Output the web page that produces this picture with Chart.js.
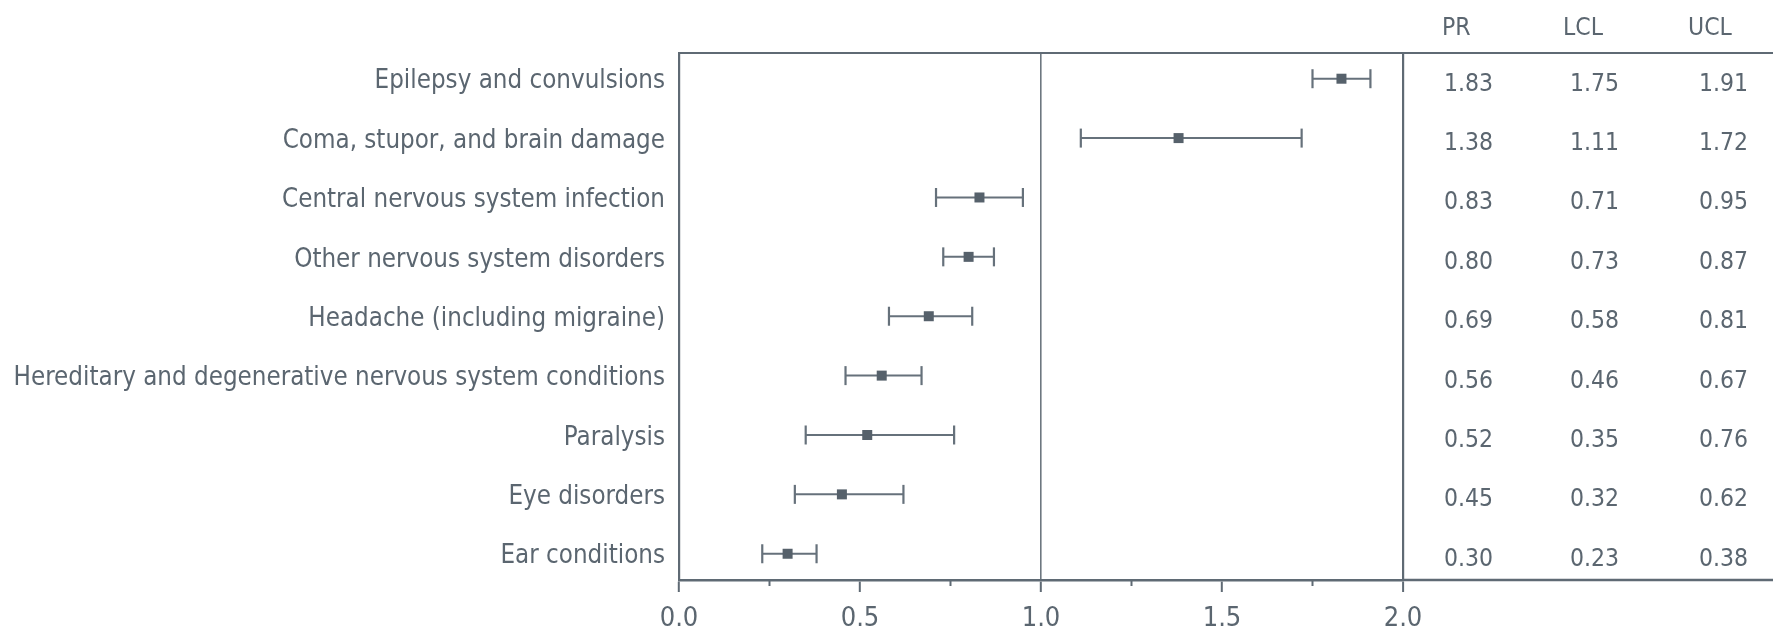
<!DOCTYPE html>
<html><head><meta charset="utf-8">
<script src="https://cdn.jsdelivr.net/npm/chart.js@4.4.1/dist/chart.umd.min.js"></script>
<style>html,body{margin:0;padding:0;background:#fff;overflow:hidden}</style>
</head><body>
<canvas id="c" width="1773" height="630"></canvas>
<script>
// ---- data ----
const categories = [
  'Epilepsy and convulsions',
  'Coma, stupor, and brain damage',
  'Central nervous system infection',
  'Other nervous system disorders',
  'Headache (including migraine)',
  'Hereditary and degenerative nervous system conditions',
  'Paralysis',
  'Eye disorders',
  'Ear conditions'
];
const PR  = [1.83, 1.38, 0.83, 0.80, 0.69, 0.56, 0.52, 0.45, 0.30];
const LCL = [1.75, 1.11, 0.71, 0.73, 0.58, 0.46, 0.35, 0.32, 0.23];
const UCL = [1.91, 1.72, 0.95, 0.87, 0.81, 0.67, 0.76, 0.62, 0.38];
const xMajorTicks = [0, 0.5, 1.0, 1.5, 2.0];
const xMinorTicks = [0.25, 0.75, 1.25, 1.75];
const tableHeaders = ['PR', 'LCL', 'UCL'];

// ---- styles ----
const FONT = '"DejaVu Sans Condensed", "DejaVu Sans", sans-serif';
const TEXT = '#5b6670';
const LINE = '#5f6a74';
const MARK = '#56616b';

const ciDatasets = categories.map((c, i) => ({
  label: c + ' CI',
  data: [{x: LCL[i], y: i}, {x: UCL[i], y: i}],
  showLine: true,
  borderColor: '#66717b',
  borderWidth: 2,
  pointStyle: 'line',
  pointRotation: 90,
  pointRadius: 9.5,
  pointBorderWidth: 2.2,
  pointBorderColor: '#66717b',
  pointBackgroundColor: '#66717b'
}));

const prDataset = {
  label: 'PR',
  data: PR.map((v, i) => ({x: v, y: i})),
  showLine: false,
  pointStyle: 'rect',
  pointRadius: 7.07,
  pointBorderWidth: 0,
  backgroundColor: MARK,
  pointBackgroundColor: MARK,
  borderColor: MARK
};

const extras = {
  id: 'extras',
  afterDraw(chart) {
    const {ctx, chartArea: a, scales: {x, y}} = chart;
    ctx.save();
    // top rule extends across the table
    ctx.strokeStyle = LINE; ctx.lineWidth = 2.2;
    ctx.beginPath(); ctx.moveTo(a.left - 1, a.top); ctx.lineTo(chart.width, a.top); ctx.stroke();
    // bottom rule continues under the table
    ctx.lineWidth = 2.6;
    ctx.beginPath(); ctx.moveTo(a.right, a.bottom); ctx.lineTo(chart.width, a.bottom); ctx.stroke();
    // minor ticks
    ctx.lineWidth = 2; ctx.strokeStyle = LINE;
    xMinorTicks.forEach(v => {
      const px = x.getPixelForValue(v);
      ctx.beginPath(); ctx.moveTo(px, a.bottom); ctx.lineTo(px, a.bottom + 6); ctx.stroke();
    });
    // table
    ctx.fillStyle = TEXT;
    ctx.font = '24.5px ' + FONT;
    ctx.textBaseline = 'alphabetic';
    const headX = [1442, 1563, 1688];
    ctx.textAlign = 'left';
    tableHeaders.forEach((h, j) => ctx.fillText(h, headX[j], 35));
    const colX = [1493, 1619, 1748];
    ctx.textAlign = 'right';
    const cols = [PR, LCL, UCL];
    categories.forEach((c, i) => {
      const py = y.getPixelForValue(i) + 12;
      cols.forEach((arr, j) => ctx.fillText(arr[i].toFixed(2), colX[j], py));
    });
    ctx.restore();
  }
};

new Chart(document.getElementById('c'), {
  type: 'scatter',
  data: { datasets: [prDataset, ...ciDatasets] },
  options: {
    responsive: false,
    animation: false,
    events: [],
    layout: { padding: { top: 53, right: 370, bottom: 0, left: 0 } },
    plugins: { legend: { display: false }, tooltip: { enabled: false } },
    scales: {
      x: {
        type: 'linear', position: 'bottom', min: 0, max: 2,
        afterBuildTicks: s => { s.ticks = xMajorTicks.map(v => ({value: v})); },
        afterFit: s => { s.height = 50; },
        grid: {
          drawOnChartArea: true, drawTicks: true, tickLength: 12,
          color: c => (c.tick && c.tick.value === 1) ? '#6d7780' : (c.tick && c.tick.value === 2 ? LINE : 'rgba(0,0,0,0)'),
          lineWidth: c => (c.tick && c.tick.value === 2) ? 2.2 : 1.6,
          tickColor: LINE, tickWidth: 2
        },
        border: { display: true, color: LINE, width: 2.6 },
        ticks: {
          color: TEXT, padding: 11,
          font: { family: FONT, size: 27 },
          callback: v => Number(v).toFixed(1)
        }
      },
      y: {
        type: 'linear', reverse: true, min: -0.433, max: 8.442,
        afterBuildTicks: s => { s.ticks = categories.map((c, i) => ({value: i})); },
        afterFit: s => { s.width = 679; },
        grid: { display: false, drawTicks: false },
        border: { display: true, color: LINE, width: 2.2 },
        ticks: {
          color: TEXT, padding: 14, labelOffset: 3,
          font: { family: FONT, size: 25.7 },
          callback: v => categories[v]
        }
      }
    }
  },
  plugins: [extras]
});
</script>
</body></html>
